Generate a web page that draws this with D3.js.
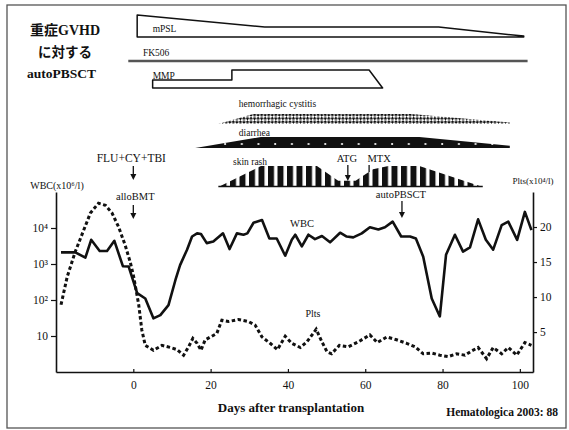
<!DOCTYPE html>
<html>
<head>
<meta charset="utf-8">
<script src="https://cdn.jsdelivr.net/npm/d3@7/dist/d3.min.js"></script>
<style>
  body { margin: 0; background: #fff; }
  svg text { font-family: "Liberation Serif", "Noto Sans CJK JP", serif; fill: #111; }
</style>
</head>
<body>
<svg id="chart" width="569" height="430"></svg>
<script>
// WBC (x10^6/l) - left, log axis
let wbcDays = [-18.7, -15, -12.4, -10.9, -8.7, -6.8, -4.9, -2.7, -1.2, 1, 3.1, 5.2, 7, 9.1, 10.9, 12.1, 13.9, 15.2,
    16.5, 17.5, 19, 20.7, 23.2, 24.9, 26.8, 28.5, 29.5, 31.1, 33.3, 35.2, 37.1, 39.3, 41, 41.9, 43.6, 45.3, 47,
    48.8, 50.9, 53.5, 55.2, 56.9, 59.1, 61.2, 63.4, 65.1, 67.1, 69.3, 71.6, 73.1, 75, 77.2, 79.3, 80.9, 83.2,
    85.3, 87.1, 89.2, 91.2, 93.1, 95.3, 97, 99.3, 101.3, 103];
let wbcValues = [2100, 2100, 1500, 4700, 2300, 2300, 4400, 870, 850, 155, 110, 31, 38, 72, 360, 930, 2500, 5800,
    7100, 6800, 3800, 4200, 7100, 2600, 7100, 6500, 7100, 14000, 16600, 5100, 5100, 1700, 4700, 6500, 3100, 6500, 4900,
    6000, 4000, 7400, 5800, 5500, 7100, 10500, 9100, 10500, 15000, 5800, 5800, 5100, 1600, 110, 35, 1800, 6500,
    2200, 2900, 17400, 4700, 2500, 12000, 15000, 4700, 28000, 8700];

// Plts (x10^4/ul) - right axis
let pltDays = [-18.7, -17.1, -15, -12.8, -11.1, -9, -7.2, -5.5, -3.8, -2.1, -0.8, 0.1, 1.4, 2.2, 3.1, 5.2, 7.4, 9.6,
    11.3, 13, 14.3, 15.4, 16.5, 17.5, 18.6, 20.3, 21.6, 22.9, 24.6, 27.2, 29.8, 31.5, 33.3, 35.4, 37.3, 39.3, 41,
    43.2, 44.9, 47.3, 48.8, 50.1, 51.3, 53.3, 55.6, 58.2, 61.2, 63.1, 65.6, 68.1, 70.7, 72.9, 75, 77.2, 79.3, 81.5,
    83.6, 85.8, 87.5, 89.2, 91.4, 93.1, 95.3, 97, 99.2, 101.3, 103];
let pltValues = [8.9, 12.9, 16.5, 19.6, 22, 23.4, 23.1, 22, 20, 17.4, 15, 12.9, 8.9, 5.3, 3.1, 2.4, 3.1, 2.8,
    2.5, 1.7, 2.9, 4.1, 3.4, 2.4, 3.9, 4.4, 4.8, 6.7, 6.5, 6.8, 6.5, 6, 4.3, 3.4, 2.5, 4.4, 3.4,
    2.8, 3.6, 5.4, 3.6, 2.2, 1.9, 3.1, 2.9, 3.6, 4.6, 3.5, 4.3, 3.9, 3.4, 2.9, 1.9, 2, 1.7, 1.5,
    1.9, 1.7, 2.3, 2.8, 1.2, 2.8, 1.9, 2.8, 1.7, 3.5, 3.1];

let xTicks = [0, 20, 40, 60, 80, 100];
let wbcTicks = [10, 100, 1000, 10000];
let wbcTickLabels = ['10', '10²', '10³', '10⁴'];
let pltTicks = [5, 10, 15, 20];

// treatments / symptoms: day + relative intensity (0..1)
let mpslDays = [1, 34, 79, 101], mpslLevels = [1, 0.45, 0.45, 0.04];
let fkDays = [-1.3, 102];
let mmpDays = [5, 25.5, 25.5, 61, 64.5], mmpLevels = [0.45, 0.45, 1, 1, 0];
let cystitisDays = [22, 31, 72, 97.4], cystitisLevels = [0, 1, 1, 0.15];
let diarrheaDays = [16, 33, 74, 97.4], diarrheaLevels = [0, 1, 1, 0.2];
let rashDays = [22, 33, 47.5, 53, 57.5, 62, 66, 74, 90.4], rashLevels = [0, 1, 1, 0.3, 0.3, 0.85, 1, 1, 0];

// events
let eventLabels = ['FLU+CY+TBI', 'alloBMT', 'autoPBSCT', 'ATG', 'MTX'];
let eventDays = [0, 0, 69.5, 55.5, 61];

let svg = d3.select('#chart');

let x = d3.scaleLinear().domain([-20, 103.4]).range([56, 533]);
let yWbc = d3.scaleLog().domain([1, 1e5]).range([372, 192]);
let yPlt = d3.scaleLinear().domain([-0.7, 25]).range([372, 192]);

// frame
svg.append('rect')
    .attr('x', 7).attr('y', 5).attr('width', 559).attr('height', 423)
    .attr('fill', 'none').attr('stroke', '#555').attr('stroke-width', 1.3);

// patterns
let defs = svg.append('defs');
let checker = defs.append('pattern').attr('id', 'checker')
    .attr('patternUnits', 'userSpaceOnUse').attr('width', 5).attr('height', 5)
    .attr('patternTransform', 'rotate(45)');
checker.append('rect').attr('width', 5).attr('height', 5).attr('fill', '#fff');
checker.append('rect').attr('width', 2.5).attr('height', 2.5).attr('fill', '#111');
checker.append('rect').attr('x', 2.5).attr('y', 2.5).attr('width', 2.5).attr('height', 2.5).attr('fill', '#111');

let dots = defs.append('pattern').attr('id', 'dots')
    .attr('patternUnits', 'userSpaceOnUse').attr('width', 16.7).attr('height', 430);
dots.append('rect').attr('width', 16.7).attr('height', 430).attr('fill', '#111');
dots.append('circle').attr('cx', 8).attr('cy', 144).attr('r', 1.1).attr('fill', '#fff');

let stripes = defs.append('pattern').attr('id', 'stripes')
    .attr('patternUnits', 'userSpaceOnUse').attr('width', 9.5).attr('height', 10).attr('x', 2);
stripes.append('rect').attr('width', 9.5).attr('height', 10).attr('fill', '#fff');
stripes.append('rect').attr('width', 6).attr('height', 10).attr('fill', '#111');

// top panel: course bars
function course(days, levels, base, h, fill, stroke) {
    let yr = d3.scaleLinear().domain([0, 1]).range([base, base - h]);
    let area = d3.area()
        .x(d => x(d[0]))
        .y0(base)
        .y1(d => yr(d[1]));
    svg.append('path')
        .datum(days.map((d, i) => [d, levels[i]]))
        .attr('d', area)
        .attr('fill', fill)
        .attr('stroke', stroke || 'none')
        .attr('stroke-width', 1.5)
        .attr('stroke-linejoin', 'round');
}

course(mpslDays, mpslLevels, 37, 22, '#fff', '#111');
course(mmpDays, mmpLevels, 88, 18, '#fff', '#111');
course(cystitisDays, cystitisLevels, 124, 10, 'url(#checker)');
course(diarrheaDays, diarrheaLevels, 148, 11, 'url(#dots)');
course(rashDays, rashLevels, 187, 21, 'url(#stripes)');

svg.append('line')
    .attr('x1', x(rashDays[0])).attr('x2', x(rashDays[rashDays.length - 1]))
    .attr('y1', 186.5).attr('y2', 186.5)
    .attr('stroke', '#111').attr('stroke-width', 1.5);

svg.append('line')
    .attr('x1', x(fkDays[0])).attr('x2', x(fkDays[1]))
    .attr('y1', 61).attr('y2', 61)
    .attr('stroke', '#555').attr('stroke-width', 2.4);

let small = [
    ['mPSL', 5, 32], ['FK506', 2.5, 55.5], ['MMP', 5, 79],
    ['hemorrhagic cystitis', 27.3, 107], ['diarrhea', 27.3, 136], ['skin rash', 25.8, 165]
];
svg.selectAll('.small').data(small).enter().append('text')
    .attr('class', 'small')
    .attr('x', d => x(d[1])).attr('y', d => d[2])
    .attr('font-size', 9.5)
    .text(d => d[0]);

// title block
svg.append('text').attr('x', 30).attr('y', 35).attr('font-size', 14).attr('font-weight', 'bold').text('重症GVHD');
svg.append('text').attr('x', 38).attr('y', 57).attr('font-size', 13.5).attr('font-weight', 'bold').text('に対する');
svg.append('text').attr('x', 27).attr('y', 78).attr('font-size', 13.5).attr('font-weight', 'bold').text('autoPBSCT');

// event arrows
let evLayout = [
    {ty: 162, y1: 166, y2: 180, head: true, dx: -2},
    {ty: 200, y1: 205, y2: 219, head: true, dx: 2},
    {ty: 198, y1: 201, y2: 218, head: true, dx: -1},
    {ty: 162, y1: 165, y2: 181, head: true, dx: -1},
    {ty: 162, y1: 165, y2: 172, head: false, dx: 10}
];
eventLabels.forEach((lab, i) => {
    let cx = x(eventDays[i]), L = evLayout[i];
    svg.append('text')
        .attr('x', cx + L.dx).attr('y', L.ty)
        .attr('text-anchor', 'middle')
        .attr('font-size', i == 0 ? 11.5 : 10.5)
        .text(lab);
    svg.append('line')
        .attr('x1', cx).attr('x2', cx)
        .attr('y1', L.y1).attr('y2', L.head ? L.y2 - 4 : L.y2)
        .attr('stroke', '#111').attr('stroke-width', 1.3);
    if (L.head) {
        svg.append('path')
            .attr('d', `M${cx - 3},${L.y2 - 6}L${cx + 3},${L.y2 - 6}L${cx},${L.y2}Z`)
            .attr('fill', '#111');
    }
});

// axes
let gx = svg.append('g').attr('transform', 'translate(0,372)')
    .call(d3.axisBottom(x).tickValues(xTicks).tickSize(-3).tickSizeOuter(0).tickPadding(9));
let gl = svg.append('g').attr('transform', 'translate(56,0)')
    .call(d3.axisLeft(yWbc).tickValues(wbcTicks).tickFormat((d, i) => wbcTickLabels[i]).tickSize(5).tickSizeOuter(0).tickPadding(3));
let gr = svg.append('g').attr('transform', 'translate(533,0)')
    .call(d3.axisRight(yPlt).tickValues(pltTicks).tickSize(4).tickSizeOuter(0).tickPadding(3));

[gx, gl, gr].forEach(g => {
    g.selectAll('path.domain').attr('stroke', '#111').attr('stroke-width', 1.6);
    g.selectAll('.tick line').attr('stroke', '#111').attr('stroke-width', 1.2);
    g.selectAll('.tick text').attr('font-family', '"Liberation Serif", serif').attr('font-size', 11.5).attr('fill', '#111');
});

svg.append('text').attr('x', 57).attr('y', 189).attr('text-anchor', 'middle').attr('font-size', 10).text('WBC(x10⁶/l)');
svg.append('text').attr('x', 533).attr('y', 184).attr('text-anchor', 'middle').attr('font-size', 9).text('Plts(x10⁴/l)');

// series
let wbcLine = d3.line().x(d => x(d[0])).y(d => yWbc(d[1]));
let pltLine = d3.line().x(d => x(d[0])).y(d => yPlt(d[1]));

svg.append('path')
    .datum(pltDays.map((d, i) => [d, pltValues[i]]))
    .attr('d', pltLine)
    .attr('fill', 'none').attr('stroke', '#111').attr('stroke-width', 3)
    .attr('stroke-dasharray', '3.5,2.5');

svg.append('path')
    .datum(wbcDays.map((d, i) => [d, wbcValues[i]]))
    .attr('d', wbcLine)
    .attr('fill', 'none').attr('stroke', '#111').attr('stroke-width', 2.6)
    .attr('stroke-linejoin', 'round');

svg.append('text').attr('x', 302).attr('y', 227).attr('text-anchor', 'middle').attr('font-size', 10.5).text('WBC');
svg.append('text').attr('x', 313).attr('y', 317).attr('text-anchor', 'middle').attr('font-size', 10).text('Plts');

// footer
svg.append('text').attr('x', 291).attr('y', 412).attr('text-anchor', 'middle')
    .attr('font-size', 13).attr('font-weight', 'bold').text('Days after transplantation');
svg.append('text').attr('x', 558).attr('y', 416).attr('text-anchor', 'end')
    .attr('font-size', 11.5).attr('font-weight', 'bold').text('Hematologica 2003: 88');
</script>
</body>
</html>
